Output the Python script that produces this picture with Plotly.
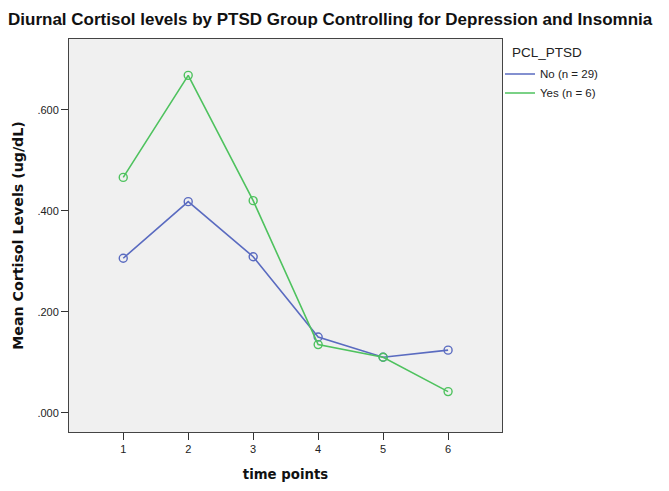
import plotly.graph_objects as go

time_points = [1, 2, 3, 4, 5, 6]
no_ptsd = [0.306, 0.418, 0.309, 0.150, 0.110, 0.124]
yes_ptsd = [0.466, 0.668, 0.420, 0.135, 0.110, 0.042]
series_names = ["No (n = 29)", "Yes (n = 6)"]
legend_title = "PCL_PTSD"
y_tick_vals = [0.0, 0.2, 0.4, 0.6]
y_tick_text = [".000", ".200", ".400", ".600"]

BLUE = "#5A6BC0"
GREEN = "#4EC25E"

fig = go.Figure()
for name, vals, col in [(series_names[0], no_ptsd, BLUE), (series_names[1], yes_ptsd, GREEN)]:
    fig.add_trace(go.Scatter(
        x=time_points, y=vals, name=name, mode="lines+markers", showlegend=False,
        line=dict(color=col, width=1.6),
        marker=dict(symbol="circle-open", size=8, color=col, line=dict(width=1.4, color=col)),
    ))
# legend entries show only the line sample, as in the reference
for name, col in [(series_names[0], BLUE), (series_names[1], GREEN)]:
    fig.add_trace(go.Scatter(x=[None], y=[None], name=name, mode="lines",
                             line=dict(color=col, width=1.6), showlegend=True))

fig.update_layout(
    width=669, height=491,
    margin=dict(l=61, r=175, t=31, b=67, autoexpand=False),
    paper_bgcolor="white", plot_bgcolor="#F0F0F0",
    font=dict(family="Liberation Sans, Arial, sans-serif", color="#222222"),
    title=dict(text="<b>Diurnal Cortisol levels by PTSD Group Controlling for Depression and Insomnia</b>",
               x=0.0, xanchor="left", xref="container", y=0.977, yanchor="middle", yref="container",
               font=dict(size=17.0, color="#111111")),
    showlegend=True,
    legend=dict(x=0.9954, xanchor="left", y=0.948, yanchor="top",
                font=dict(size=11.5, color="#222222"), bgcolor="rgba(0,0,0,0)",
                itemwidth=30, tracegroupgap=0),
    annotations=[dict(text=legend_title, xref="paper", yref="paper", x=1.0185, y=0.965,
                      xanchor="left", yanchor="middle", showarrow=False,
                      font=dict(size=13.5, color="#222222"))],
    xaxis=dict(range=[0.165, 6.83], tickvals=time_points, ticks="outside", ticklen=7,
               tickcolor="#333333", showgrid=False, zeroline=False, automargin=False,
               showline=True, linecolor="#444444", linewidth=1, mirror=True,
               tickfont=dict(size=11, color="#222222"),
               title=dict(text="<b>time points</b>",
                          font=dict(family="DejaVu Sans, Verdana, sans-serif", size=13.3, color="#111111"),
                          standoff=15)),
    yaxis=dict(range=[-0.038, 0.74], tickvals=y_tick_vals, ticktext=y_tick_text,
               ticks="outside", ticklen=7, tickcolor="#333333", showgrid=False, zeroline=False,
               automargin=False,
               showline=True, linecolor="#444444", linewidth=1, mirror=True,
               tickfont=dict(size=11, color="#222222"),
               title=dict(text="<b>Mean Cortisol Levels (ug/dL)</b>",
                          font=dict(family="DejaVu Sans, Verdana, sans-serif", size=14.2, color="#111111"),
                          standoff=10)),
)

fig.write_html("out.html")
